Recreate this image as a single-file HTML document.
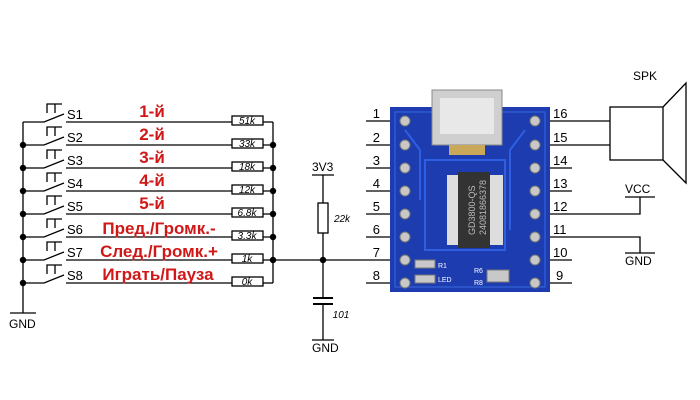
<!DOCTYPE html>
<html><head><meta charset="utf-8"><style>
html,body{margin:0;padding:0;background:#fff}
svg{display:block}
text{font-family:"Liberation Sans",sans-serif}
</style></head><body>
<svg width="700" height="400" viewBox="0 0 700 400" xmlns="http://www.w3.org/2000/svg">
<rect width="700" height="400" fill="#fff"/>
<g stroke="#000" stroke-width="1.3" fill="none">
<line x1="23" y1="122" x2="23" y2="313"/>
<line x1="10" y1="313" x2="36" y2="313"/>
<line x1="273" y1="122" x2="273" y2="283"/>
<line x1="263" y1="122" x2="273" y2="122"/>
<line x1="263" y1="283" x2="273" y2="283"/>
</g>
<g stroke="#000" stroke-width="1.3" fill="none">
<path d="M23 122H44L64 114M47 113V104H62M55 104V113 M66 122H232"/>
<path d="M23 145H44L64 137M47 136V127H62M55 127V136 M66 145H232"/>
<path d="M23 168H44L64 160M47 159V150H62M55 150V159 M66 168H232"/>
<path d="M23 191H44L64 183M47 182V173H62M55 173V182 M66 191H232"/>
<path d="M23 214H44L64 206M47 205V196H62M55 196V205 M66 214H232"/>
<path d="M23 237H44L64 229M47 228V219H62M55 219V228 M66 237H232"/>
<path d="M23 260H44L64 252M47 251V242H62M55 242V251 M66 260H232"/>
<path d="M23 283H44L64 275M47 274V265H62M55 265V274 M66 283H232"/>
<rect x="232" y="116" width="31" height="9"/>
<rect x="232" y="139" width="31" height="9"/>
<rect x="232" y="162" width="31" height="9"/>
<rect x="232" y="185" width="31" height="9"/>
<rect x="232" y="208" width="31" height="9"/>
<rect x="232" y="231" width="31" height="9"/>
<rect x="232" y="254" width="31" height="9"/>
<rect x="232" y="277" width="31" height="9"/>
<path d="M263 145H273M263 168H273M263 191H273M263 214H273M263 237H273M263 260H373"/>
<path d="M312 175H334M323 175V203M323 233V298M323 304V340M312 340H334"/>
<rect x="318" y="203" width="10" height="30"/>
<path d="M313 298H333M313 304H333" stroke-width="2"/>
</g>
<g fill="#000">
<circle cx="23" cy="145" r="3.2"/><circle cx="23" cy="168" r="3.2"/><circle cx="23" cy="191" r="3.2"/><circle cx="23" cy="214" r="3.2"/><circle cx="23" cy="237" r="3.2"/><circle cx="23" cy="260" r="3.2"/><circle cx="23" cy="283" r="3.2"/>
<circle cx="273" cy="145" r="3.2"/><circle cx="273" cy="168" r="3.2"/><circle cx="273" cy="191" r="3.2"/><circle cx="273" cy="214" r="3.2"/><circle cx="273" cy="237" r="3.2"/><circle cx="273" cy="260" r="3.2"/>
<circle cx="323" cy="260" r="3.2"/>
</g>
<g font-size="13" fill="#000">
<text x="67" y="119">S1</text><text x="67" y="142">S2</text><text x="67" y="165">S3</text><text x="67" y="188">S4</text><text x="67" y="211">S5</text><text x="67" y="234">S6</text><text x="67" y="257">S7</text><text x="67" y="280">S8</text>
<text x="9" y="328" font-size="12">GND</text>
<text x="312" y="171" font-size="12">3V3</text>
<text x="312" y="352" font-size="12">GND</text>
</g>
<g font-size="10" font-style="italic" text-anchor="middle" fill="#000">
<text x="247" y="124">51k</text><text x="247" y="147">33k</text><text x="247" y="170">18k</text><text x="247" y="193">12k</text><text x="247" y="216">6.8k</text><text x="247" y="239">3.3k</text><text x="247" y="262">1k</text><text x="247" y="285">0k</text>
<text x="342" y="222">22k</text><text x="341" y="318">101</text>
</g>
<g font-size="17" font-weight="bold" fill="#d01818" text-anchor="middle">
<text x="152" y="117">1-й</text><text x="152" y="140">2-й</text><text x="152" y="163">3-й</text><text x="152" y="186">4-й</text><text x="152" y="209">5-й</text>
<text x="159" y="234">Пред./Громк.-</text><text x="159" y="257">След./Громк.+</text><text x="158" y="280">Играть/Пауза</text>
</g>
<rect x="390" y="107" width="160" height="185" fill="#1c3cb0"/>
<rect x="395" y="112" width="150" height="175" fill="none" stroke="#3a6ae0" stroke-width="1"/>
<path d="M405 130L420 150V200M525 130L510 150V230M425 160H505V250H425Z" stroke="#2f5fe0" stroke-width="2" fill="none"/>
<rect x="432" y="90" width="70" height="55" fill="#cfcfcf" stroke="#888"/>
<rect x="440" y="98" width="54" height="36" fill="#e8e8e8"/>
<rect x="449" y="145" width="36" height="10" fill="#c9a85a"/>
<rect x="447" y="175" width="56" height="70" fill="#ddd"/>
<rect x="458" y="172" width="32" height="76" fill="#333"/>
<text x="0" y="0" font-size="9" fill="#bbb" transform="translate(475 235) rotate(-90)">GD3800-QS</text>
<text x="0" y="0" font-size="9" fill="#bbb" transform="translate(486 235) rotate(-90)">24081866378</text>
<g fill="#c8c8c8" stroke="#777">
<circle cx="405" cy="121" r="5"/><circle cx="405" cy="145" r="5"/><circle cx="405" cy="168" r="5"/><circle cx="405" cy="191" r="5"/><circle cx="405" cy="214" r="5"/><circle cx="405" cy="237" r="5"/><circle cx="405" cy="260" r="5"/><circle cx="405" cy="283" r="5"/>
<circle cx="535" cy="121" r="5"/><circle cx="535" cy="145" r="5"/><circle cx="535" cy="168" r="5"/><circle cx="535" cy="191" r="5"/><circle cx="535" cy="214" r="5"/><circle cx="535" cy="237" r="5"/><circle cx="535" cy="260" r="5"/><circle cx="535" cy="283" r="5"/>
<rect x="415" y="260" width="20" height="8"/><rect x="415" y="275" width="20" height="8"/><rect x="487" y="270" width="22" height="12"/>
</g>
<g font-size="7" fill="#fff"><text x="438" y="268">R1</text><text x="438" y="282">LED</text><text x="474" y="273">R6</text><text x="474" y="285">R8</text></g>
<g stroke="#000" stroke-width="1.3" fill="none">
<path d="M366 121H390M366 145H390M366 168H390M366 191H390M366 214H390M366 237H390M373 260H390M366 283H390"/>
<path d="M550 121H610M550 145H610M550 168H572M550 191H572M550 214H640V197M625 197H655M550 237H640V253M625 253H655M550 260H572M550 283H572"/>
<rect x="610" y="107" width="53" height="53"/>
<path d="M663 107L686 83V183L663 160"/>
</g>
<g font-size="13" fill="#000">
<g text-anchor="end"><text x="380" y="118">1</text><text x="380" y="142">2</text><text x="380" y="165">3</text><text x="380" y="188">4</text><text x="380" y="211">5</text><text x="380" y="234">6</text><text x="380" y="257">7</text><text x="380" y="280">8</text></g>
<text x="553" y="118">16</text><text x="553" y="142">15</text><text x="553" y="165">14</text><text x="553" y="188">13</text><text x="553" y="211">12</text><text x="553" y="234">11</text><text x="553" y="257">10</text><text x="556" y="280">9</text>
<text x="633" y="80" font-size="12">SPK</text>
<text x="625" y="193" font-size="12">VCC</text>
<text x="625" y="265" font-size="12">GND</text>
</g>
</svg>
</body></html>
